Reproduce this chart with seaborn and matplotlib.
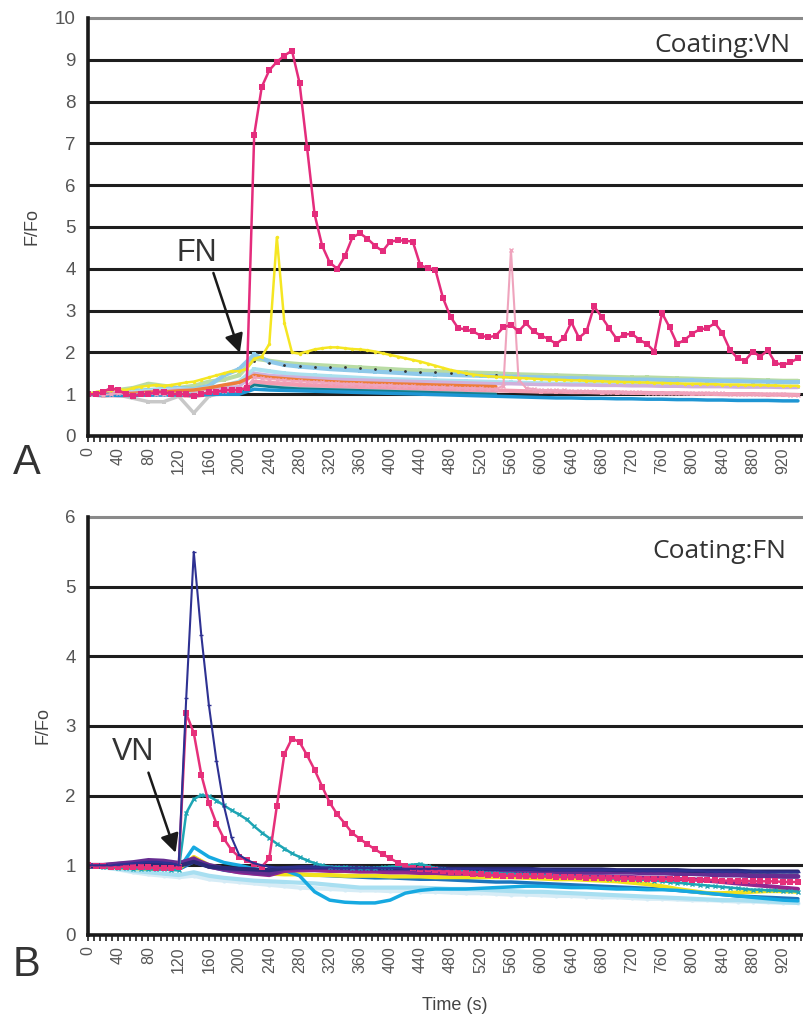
import numpy as np
import seaborn as sns
import matplotlib.pyplot as plt
from matplotlib.ticker import MultipleLocator

sns.set_style("white")
plt.rcParams["font.family"] = ["Liberation Sans", "DejaVu Sans"]

nan = np.nan
t10 = np.arange(0, 950, 10)   # main traces, 10 s sampling
t20 = np.arange(0, 950, 20)   # background traces, 20 s sampling

# ---------------- panel A (coating VN, FN applied) ----------------
a_pink = [1.0, 1.0, 1.05, 1.15, 1.1, 1.0, 0.95, 1.0, 1.0, 1.05,
          1.05, 1.0, 1.0, 1.0, 0.95, 1.0, 1.05, 1.05, 1.1, 1.1,
          1.1, 1.15, 7.2, 8.35, 8.75, 8.95, 9.1, 9.22, 8.45, 6.9,
          5.3, 4.55, 4.15, 4.0, 4.3, 4.75, 4.85, 4.72, 4.55, 4.42,
          4.65, 4.68, 4.67, 4.65, 4.08, 4.02, 3.97, 3.3, 2.85, 2.58,
          2.55, 2.5, 2.4, 2.36, 2.4, 2.6, 2.66, 2.5, 2.7, 2.5,
          2.4, 2.32, 2.2, 2.35, 2.72, 2.35, 2.5, 3.1, 2.85, 2.58,
          2.32, 2.42, 2.45, 2.3, 2.2, 2.02, 2.94, 2.6, 2.2, 2.3,
          2.45, 2.55, 2.58, 2.7, 2.46, 2.06, 1.86, 1.8, 2.02, 1.9,
          2.05, 1.75, 1.7, 1.76, 1.86]
a_yellow = [1.0, 1.05, 1.08, 1.1, 1.12, 1.1, 1.15, 1.18, 1.2, 1.22,
            1.2, 1.22, 1.25, 1.28, 1.3, 1.35, 1.4, 1.45, 1.5, 1.55,
            1.55, 1.6, 1.85, 1.9, 2.2, 4.75, 2.7, 2.0, 1.97, 2.02,
            2.07, 2.1, 2.12, 2.12, 2.1, 2.08, 2.07, 2.05, 2.02, 1.98,
            1.94, 1.9, 1.86, 1.82, 1.78, 1.73, 1.68, 1.63, 1.58, 1.54,
            1.5, 1.47, 1.45, 1.43, 1.42, 1.41, 1.4, 1.39, 1.38, 1.37,
            1.36, 1.35, 1.35, 1.34, 1.33, 1.33, 1.32, 1.31, 1.31, 1.3,
            1.3, 1.29, 1.29, 1.28, 1.28, 1.27, 1.27, 1.26, 1.26, 1.25,
            1.25, 1.25, 1.24, 1.24, 1.23, 1.23, 1.23, 1.22, 1.22, 1.22,
            1.21, 1.21, 1.2, 1.2, 1.2]
a_lpink = [1.0, 1.0, 0.98, 1.0, 1.02, 1.0, 0.98, 1.0, 1.02, 1.0,
           1.0, 1.02, 1.0, 0.98, 1.0, 1.02, 1.05, 1.05, 1.08, 1.1,
           1.12, 1.15, 1.4, 1.38, 1.36, 1.35, 1.33, 1.32, 1.31, 1.3,
           1.29, 1.28, 1.27, 1.26, 1.25, 1.25, 1.24, 1.23, 1.22, 1.22,
           1.21, 1.2, 1.2, 1.19, 1.18, 1.18, 1.17, 1.16, 1.16, 1.15,
           1.15, 1.14, 1.14, 1.13, 1.13, 1.2, 4.45, 1.35, 1.15, 1.12,
           1.1, 1.1, 1.09, 1.09, 1.08, 1.08, 1.07, 1.07, 1.06, 1.06,
           1.06, 1.05, 1.05, 1.05, 1.04, 1.04, 1.04, 1.03, 1.03, 1.03,
           1.03, 1.02, 1.02, 1.02, 1.02, 1.01, 1.01, 1.01, 1.01, 1.0,
           1.0, 1.0, 1.0, 0.99, 0.99]

a_lblue = [1.0, 1.02, 1.05, 1.08, 1.1, 1.12, 1.15, 1.12, 1.2, 1.45,
           1.6, 1.95, 1.78, 1.7, 1.66, 1.63, 1.6, 1.58, 1.56, 1.54,
           1.52, 1.5, 1.48, 1.47, 1.46, 1.45, 1.44, 1.43, 1.42, 1.41,
           1.4, 1.39, 1.38, 1.38, 1.37, 1.36, 1.35, 1.35, 1.34, 1.33,
           1.33, 1.32, 1.32, 1.31, 1.3, 1.3, 1.29, 1.29]
a_lgreen = [1.0, 1.05, 1.1, 1.15, 1.25, 1.2, 1.15, 1.2, 1.3, 1.35,
            1.45, 1.85, 1.8, 1.75, 1.72, 1.7, 1.68, 1.66, 1.64, 1.62,
            1.6, 1.58, 1.57, 1.55, 1.54, 1.52, 1.51, 1.5, 1.48, 1.47,
            1.46, 1.45, 1.44, 1.43, 1.42, 1.41, 1.4, 1.4, 1.39, 1.38,
            1.37, 1.36, 1.35, 1.35, 1.34, 1.33, 1.32, 1.32]
a_lcyan = [1.0, 1.0, 1.02, 1.05, 1.08, 1.1, 1.12, 1.1, 1.15, 1.2,
           1.3, 1.6, 1.55, 1.5, 1.47, 1.45, 1.43, 1.41, 1.39, 1.37,
           1.36, 1.35, 1.34, 1.33, 1.32, 1.31, 1.3, 1.29, 1.28, 1.27,
           1.26, 1.25, 1.25, 1.24, 1.24, 1.23, 1.23, 1.22, 1.22, 1.21,
           1.21, 1.2, 1.2, 1.2, 1.19, 1.19, 1.18, 1.18]
a_orange = [1.0, 1.0, 1.0, 1.02, 1.05, 1.05, 1.08, 1.1, 1.15, 1.22,
            1.28, 1.45, 1.4, 1.37, 1.34, 1.32, 1.3, 1.28, 1.27, 1.26,
            1.25, 1.24, 1.23, 1.22, 1.21, 1.2, 1.19, 1.18] + [nan] * 20
a_salmon = [1.0, 0.98, 0.97, 0.98, 1.0, 1.0, 0.98, 0.95, 1.0, 1.02,
            1.05, 1.3, 1.27, 1.25, 1.23, 1.21, 1.2, 1.19, 1.18, 1.17,
            1.16, 1.15, 1.14, 1.13, 1.12, 1.11, 1.1, 1.09, 1.08, 1.07,
            1.06, 1.06, 1.05, 1.05, 1.04, 1.04, 1.03, 1.03, 1.02, 1.02,
            1.01, 1.01, 1.0, 1.0, 1.0, 0.99, 0.99, 0.98]
a_blue = [1.0, 0.98, 0.97, 0.97, 0.98, 0.98, 0.98, 0.97, 0.99, 1.0,
          1.0, 1.12, 1.1, 1.09, 1.08, 1.07, 1.06, 1.05, 1.04, 1.03,
          1.02, 1.01, 1.0, 0.99, 0.98, 0.97, 0.96, 0.95, 0.94, 0.93,
          0.92, 0.91, 0.91, 0.9, 0.9, 0.89, 0.89, 0.88, 0.88, 0.87,
          0.87, 0.86, 0.86, 0.85, 0.85, 0.85, 0.84, 0.84]
a_teal = [1.0, 1.0, 0.99, 0.98, 0.98, 0.99, 1.0, 1.0, 1.0, 1.0,
          1.0, 1.22, 1.18, 1.15, 1.13, 1.12, 1.11, 1.1, 1.09, 1.08,
          1.07, 1.06, 1.05, 1.04, 1.03, 1.02, 1.01, 1.0] + [nan] * 20
a_grey = [1.0, 0.95, 0.98, 0.9, 0.82, 0.82, 0.95, 0.55, 0.95, 1.05,
          1.1, 1.25, 1.22, 1.2, 1.18, 1.17, 1.16, 1.15, 1.14, 1.13,
          1.12, 1.11, 1.1, 1.09, 1.08, 1.08, 1.07, 1.07] + [nan] * 20
a_lavender = [1.0, 1.02, 1.05, 1.03, 1.05, 1.08, 1.1, 1.08, 1.12, 1.15,
              1.18, 1.5, 1.45, 1.42, 1.4, 1.38, 1.36, 1.35, 1.34, 1.33,
              1.32, 1.31, 1.3, 1.29, 1.28, 1.27, 1.26, 1.25, 1.25, 1.24,
              1.23, 1.23, 1.22, 1.22, 1.21, 1.21, 1.2, 1.2, 1.19, 1.19,
              1.18, 1.18, 1.18, 1.17, 1.17, 1.17, 1.16, 1.16]
a_dark = [nan] * 11 + [1.8, 1.75, 1.7, 1.67, 1.66, 1.65, 1.64, 1.62, 1.6,
                       1.58, 1.56, 1.54, 1.52, 1.5, 1.48, 1.46, 1.45] + [nan] * 20

# ---------------- panel B (coating FN, VN applied) ----------------
b_navy = [1.0, 1.0, 1.0, 1.0, 1.01, 1.02, 1.03, 1.04, 1.05, 1.05,
          1.04, 1.03, 1.0, 3.4, 5.5, 4.3, 3.3, 2.5, 1.85, 1.4,
          1.15, 1.08, 1.03, 1.0, 0.98, 0.97, 0.97, 0.97, 0.97, 0.97,
          0.97, 0.97, 0.97, 0.96, 0.96, 0.96, 0.96, 0.96, 0.96, 0.96,
          0.96, 0.96, 0.95, 0.95, 0.95, 0.95, 0.95, 0.95, 0.95, 0.95,
          0.95, 0.95, 0.95, 0.94, 0.94, 0.94, 0.94, 0.94, 0.94, 0.94,
          0.94, 0.94, 0.93, 0.93, 0.93, 0.93, 0.93, 0.93, 0.93, 0.93,
          0.93, 0.93, 0.92, 0.92, 0.92, 0.92, 0.92, 0.92, 0.92, 0.92,
          0.92, 0.92, 0.91, 0.91, 0.91, 0.91, 0.91, 0.91, 0.91, 0.91,
          0.9, 0.9, 0.9, 0.9, 0.9]
b_pink = [1.0, 0.99, 0.99, 0.98, 0.98, 0.98, 0.97, 0.97, 0.97, 0.96,
          0.96, 0.96, 0.97, 3.18, 2.9, 2.3, 1.89, 1.6, 1.38, 1.22,
          1.12, 1.07, 1.02, 0.98, 1.1, 1.85, 2.6, 2.82, 2.77, 2.58,
          2.37, 2.13, 1.9, 1.73, 1.6, 1.46, 1.38, 1.3, 1.23, 1.16,
          1.1, 1.04, 0.99, 0.96, 0.95, 0.94, 0.93, 0.92, 0.91, 0.9,
          0.89, 0.88, 0.87, 0.86, 0.86, 0.85, 0.85, 0.85, 0.84, 0.84,
          0.84, 0.84, 0.83, 0.83, 0.83, 0.83, 0.82, 0.82, 0.82, 0.82,
          0.82, 0.81, 0.81, 0.81, 0.81, 0.8, 0.8, 0.8, 0.8, 0.8,
          0.79, 0.79, 0.79, 0.79, 0.78, 0.78, 0.78, 0.78, 0.77, 0.77,
          0.77, 0.77, 0.76, 0.76, 0.76]
b_teal = [1.0, 0.99, 0.98, 0.97, 0.96, 0.96, 0.95, 0.95, 0.94, 0.94,
          0.94, 0.93, 0.93, 1.75, 1.95, 2.01, 1.99, 1.93, 1.86, 1.79,
          1.73, 1.66, 1.56, 1.47, 1.39, 1.31, 1.24, 1.17, 1.12, 1.07,
          1.03, 1.0, 0.98, 0.97, 0.97, 0.96, 0.96, 0.96, 0.96, 0.97,
          0.98, 0.99, 1.0, 1.01, 1.02, 0.99, 0.96, 0.94, 0.93, 0.92,
          0.91, 0.9, 0.9, 0.89, 0.89, 0.88, 0.88, 0.87, 0.87, 0.86,
          0.86, 0.85, 0.85, 0.84, 0.84, 0.83, 0.83, 0.82, 0.82, 0.81,
          0.81, 0.8, 0.8, 0.79, 0.79, 0.78, 0.77, 0.76, 0.75, 0.74,
          0.73, 0.72, 0.71, 0.7, 0.69, 0.68, 0.67, 0.66, 0.65, 0.65,
          0.64, 0.64, 0.63, 0.63, 0.62]

b_blue = [1.0, 0.99, 0.98, 0.97, 0.96, 0.95, 0.94, 1.26, 1.12, 1.04,
          1.0, 0.95, 0.9, 0.93, 0.85, 0.62, 0.5, 0.47, 0.46, 0.46,
          0.5, 0.6, 0.64, 0.66, 0.66, 0.66, 0.67, 0.68, 0.69, 0.7,
          0.7, 0.69, 0.68, 0.68, 0.67, 0.66, 0.66, 0.65, 0.65, 0.64,
          0.62, 0.6, 0.58, 0.56, 0.54, 0.52, 0.5, 0.49]
b_purple = [1.0, 1.0, 1.02, 1.04, 1.07, 1.06, 1.03, 1.08, 1.0, 0.95,
            0.93, 0.9, 0.88, 0.95, 0.96, 0.97, 0.97, 0.96, 0.96, 0.95,
            0.95, 0.95, 0.95, 0.94, 0.94, 0.93, 0.93, 0.93, 0.92, 0.92,
            0.92, 0.91, 0.91, 0.9, 0.9, 0.9, 0.9, 0.89, 0.89, 0.88,
            0.88, 0.87, 0.86, 0.86, 0.85, 0.85, 0.84, 0.84]
b_violet = [1.0, 1.0, 1.02, 1.03, 1.05, 1.04, 1.02, 1.1, 0.98, 0.94,
            0.9, 0.88, 0.86, 0.92, 0.93, 0.93, 0.92, 0.92, 0.91, 0.91,
            0.9, 0.9, 0.89, 0.89, 0.88, 0.88, 0.87, 0.87, 0.86, 0.86,
            0.86, 0.85, 0.85, 0.84, 0.84, 0.83, 0.83, 0.82, 0.82, 0.8,
            0.8, 0.78, 0.76, 0.74, 0.72, 0.7, 0.68, 0.66]
b_midnight = [0.98, 0.98, 0.99, 1.0, 1.01, 1.01, 0.99, 1.05, 0.98, 0.96,
              0.95, 0.94, 0.93, 0.96, 0.97, 0.97, 0.97, 0.97, 0.96, 0.96,
              0.96, 0.96, 0.96, 0.96, 0.95, 0.95, 0.95, 0.95, 0.95, 0.95,
              0.94, 0.94, 0.94, 0.94, 0.94, 0.93, 0.93, 0.93, 0.93, 0.93,
              0.92, 0.92, 0.92, 0.92, 0.91, 0.91, 0.91, 0.91]
b_yellow = [1.0, 0.98, 0.97, 0.96, 0.95, 0.95, 0.95, 1.12, 1.0, 0.95,
            0.92, 0.9, 0.88, 0.87, 0.87, 0.86, 0.86, 0.85, 0.85, 0.85,
            0.84, 0.84, 0.84, 0.83, 0.83, 0.83, 0.83, 0.83, 0.83, 0.82,
            0.81, 0.8, 0.8, 0.79, 0.78, 0.77, 0.75, 0.73, 0.7, 0.66,
            0.63, 0.6, 0.6, 0.61, 0.62, 0.63, 0.63, 0.62]
b_lcyan = [1.0, 0.97, 0.95, 0.92, 0.9, 0.88, 0.86, 0.9, 0.85, 0.82,
           0.8, 0.78, 0.77, 0.76, 0.75, 0.74, 0.72, 0.7, 0.68, 0.68,
           0.68, 0.68, 0.68, 0.67, 0.66, 0.66, 0.65, 0.64, 0.63, 0.62,
           0.62, 0.61, 0.6, 0.59, 0.58, 0.57, 0.56, 0.55, 0.54, 0.53,
           0.52, 0.51, 0.5, 0.5, 0.49, 0.48, 0.47, 0.46]
b_mblue = [1.0, 0.99, 0.98, 0.97, 0.96, 0.95, 0.94, 1.05, 0.98, 0.93,
           0.9, 0.88, 0.87, 0.88, 0.87, 0.86, 0.85, 0.84, 0.83, 0.82,
           0.82, 0.81, 0.8, 0.8, 0.79, 0.78, 0.77, 0.76, 0.76, 0.75,
           0.74, 0.73, 0.72, 0.71, 0.7, 0.69, 0.68, 0.67, 0.66, 0.64,
           0.62, 0.6, 0.58, 0.56, 0.55, 0.54, 0.53, 0.52]
b_pale = [1.0, 0.97, 0.94, 0.9, 0.87, 0.85, 0.83, 0.85, 0.8, 0.78,
          0.76, 0.74, 0.72, 0.7, 0.68, 0.67, 0.66, 0.65, 0.64, 0.64,
          0.63, 0.63, 0.62, 0.62, 0.61, 0.6, 0.6, 0.59, 0.58, 0.58,
          0.57, 0.56, 0.56, 0.55, 0.54, 0.54, 0.53, 0.52, 0.52, 0.51,
          0.5, 0.5, 0.49, 0.48, 0.48, 0.47, 0.46, 0.46]

# (x, y, colour, linewidth, marker, markersize) in drawing order
traces_a = [
    (t20, a_grey, "#c8c8c8", 2.5, "s", 3),
    (t20, a_lgreen, "#b9dca4", 3, "s", 3),
    (t20, a_lblue, "#8ec9e9", 3, "s", 3),
    (t20, a_lcyan, "#abe0ee", 3, "s", 3),
    (t20, a_lavender, "#cfb0dc", 2.5, None, 0),
    (t20, a_orange, "#ee7d3a", 2.5, None, 0),
    (t20, a_salmon, "#f29bb0", 3, "s", 3),
    (t20, a_teal, "#137f8e", 2, None, 0),
    (t20, a_blue, "#1e95d3", 2.5, None, 0),
    (t20, a_dark, "#333333", 0, "o", 2),
    (t10, a_lpink, "#efa4bd", 1.5, "x", 3),
    (t10, a_yellow, "#f5e622", 1.8, "o", 2.5),
    (t10, a_pink, "#e42c7c", 1.8, "s", 4.8),
]
traces_b = [
    (t20, b_pale, "#d6ecf6", 3, "o", 3),
    (t20, b_lcyan, "#a8dff1", 3, None, 0),
    (t20, b_mblue, "#1c75bc", 2.5, None, 0),
    (t20, b_yellow, "#f2e11b", 3, None, 0),
    (t20, b_blue, "#16a9e1", 2.5, None, 0),
    (t20, b_violet, "#92278f", 3, None, 0),
    (t20, b_purple, "#662d91", 3.5, None, 0),
    (t20, b_midnight, "#2b2a78", 3, None, 0),
    (t10, b_teal, "#1ea5b4", 1.8, "x", 3.5),
    (t10, b_pink, "#e6307a", 1.8, "s", 4.8),
    (t10, b_navy, "#2e3192", 1.5, "_", 3),
]

fig = plt.figure(figsize=(8.04, 10.28), dpi=100)
ax_a = fig.add_axes([0.1095, 0.5759, 0.8905, 0.4066])
ax_b = fig.add_axes([0.1095, 0.0905, 0.8905, 0.4066])


def draw_panel(ax, traces, ymax):
    for k in range(1, ymax):
        ax.axhline(k, color="#1e1e1e", lw=2.2, zorder=1)
    ax.axhline(ymax, color="#8a8a8a", lw=2.2, zorder=1, clip_on=False)
    for i, (x, y, c, lw, m, ms) in enumerate(traces):
        sns.lineplot(x=x, y=y, ax=ax, color=c, linewidth=lw, marker=m,
                     markersize=ms, markeredgewidth=1 if m in ("x", "_") else 0,
                     markeredgecolor=c, zorder=2 + i * 0.01)
    ax.set_xlim(0, 948)
    ax.set_ylim(0, ymax)
    ax.set_yticks(range(0, ymax + 1))
    ax.set_xticks(range(0, 921, 40))
    ax.xaxis.set_minor_locator(MultipleLocator(8))
    ax.tick_params(axis="y", labelsize=13.5, labelcolor="#555555",
                   length=5, width=1.5, color="#222222", pad=4)
    ax.tick_params(axis="x", which="both", labelsize=11.5, labelcolor="#555555",
                   length=4, width=1.2, color="#222222", rotation=90, pad=4,
                   bottom=True)
    for s in ("top", "right"):
        ax.spines[s].set_visible(False)
    for s in ("left", "bottom"):
        ax.spines[s].set_color("#1a1a1a")
        ax.spines[s].set_linewidth(2.6)
    ax.set_xlabel("")
    ax.set_ylabel("F/Fo", fontsize=13, color="#444444", labelpad=10)


draw_panel(ax_a, traces_a, 10)
draw_panel(ax_b, traces_b, 6)

ax_a.text(930, 9.35, "Coating:VN", ha="right", va="center", fontsize=19,
          color="#333333", family=["Open Sans", "DejaVu Sans"])
ax_b.text(925, 5.5, "Coating:FN", ha="right", va="center", fontsize=19,
          color="#333333", family=["Open Sans", "DejaVu Sans"])

arrow = dict(arrowstyle="-|>", color="#1a1a1a", lw=1.8, mutation_scale=28,
             shrinkA=0, shrinkB=0)
ax_a.annotate("", xy=(201, 1.99), xytext=(166, 3.9), arrowprops=arrow)
ax_a.text(144, 4.38, "FN", ha="center", va="center", fontsize=22, color="#333333")
ax_b.annotate("", xy=(116, 1.18), xytext=(80, 2.33), arrowprops=arrow)
ax_b.text(60, 2.63, "VN", ha="center", va="center", fontsize=22, color="#333333")

fig.text(27 / 804, 1 - 463 / 1028, "A", fontsize=30, color="#333333",
         ha="center", va="center")
fig.text(27 / 804, 1 - 965 / 1028, "B", fontsize=30, color="#333333",
         ha="center", va="center")
fig.text(455 / 804, 1 - 1005 / 1028, "Time (s)", fontsize=13, color="#444444",
         ha="center", va="center")

fig.savefig("out.png", dpi=100)
